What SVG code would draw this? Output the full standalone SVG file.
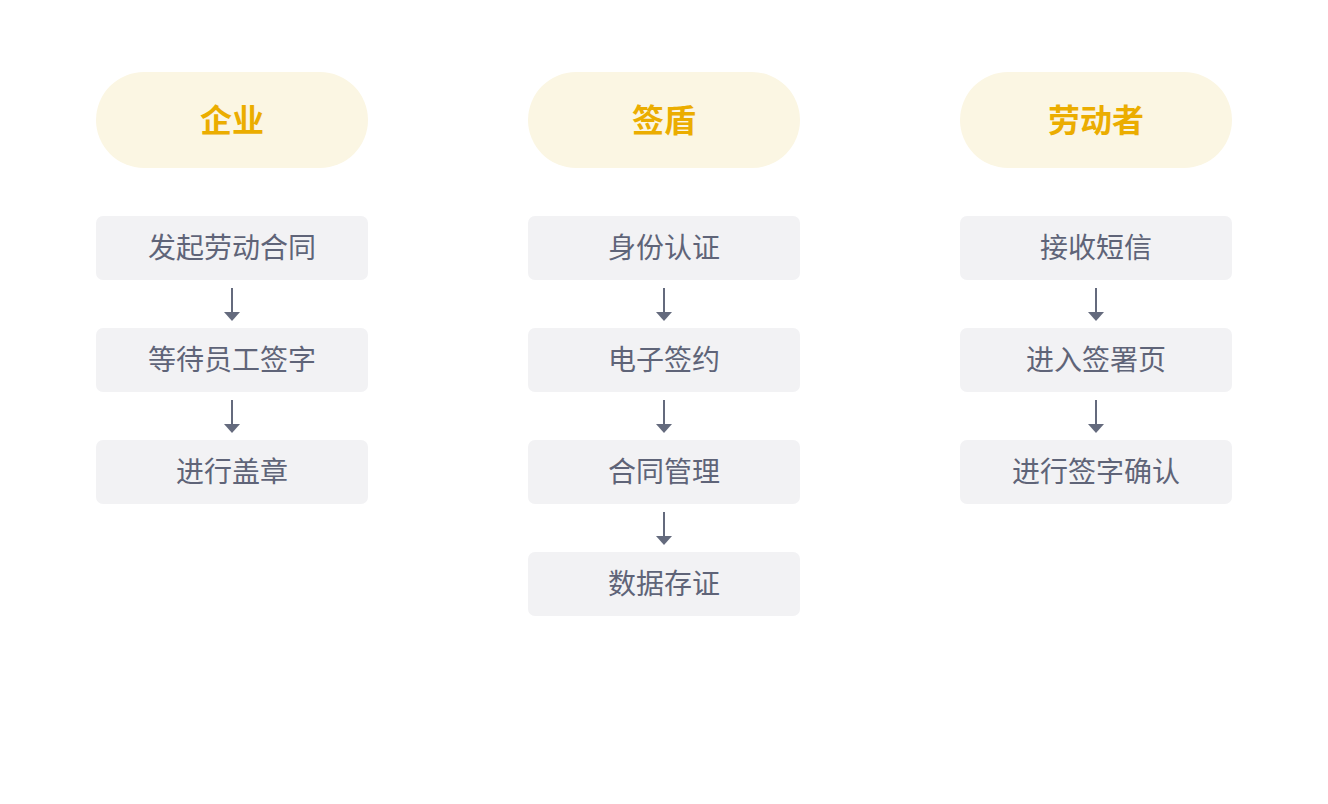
<svg xmlns="http://www.w3.org/2000/svg" width="1328" height="804" viewBox="0 0 1328 804">
<defs>
<style>
.pill{fill:#fbf6e3}
.ptxt{font-family:"Noto Sans CJK SC","Noto Sans",sans-serif;font-size:32px;font-weight:bold;fill:#ebad00;text-anchor:middle;dominant-baseline:central}
.box{fill:#f2f2f4}
.btxt{font-family:"Noto Sans CJK SC","Noto Sans",sans-serif;font-size:28px;fill:#5f6478;text-anchor:middle;dominant-baseline:central}
.conn{stroke:#646a7d;stroke-width:2;fill:none}
.head{fill:#646a7d}
</style>
</defs>
<rect width="1328" height="804" fill="#ffffff"/>
<g id="h1"><rect class="pill" x="96" y="72" width="272" height="96" rx="48"/><text class="ptxt" x="232" y="118">企业</text></g>
<g id="h2"><rect class="pill" x="528" y="72" width="272" height="96" rx="48"/><text class="ptxt" x="664" y="118">签盾</text></g>
<g id="h3"><rect class="pill" x="960" y="72" width="272" height="96" rx="48"/><text class="ptxt" x="1096" y="118">劳动者</text></g>

<g id="a1"><rect class="box" x="96" y="216" width="272" height="64" rx="7"/><text class="btxt" x="232" y="246">发起劳动合同</text></g>
<g id="a2"><rect class="box" x="96" y="328" width="272" height="64" rx="7"/><text class="btxt" x="232" y="358">等待员工签字</text></g>
<g id="a3"><rect class="box" x="96" y="440" width="272" height="64" rx="7"/><text class="btxt" x="232" y="470">进行盖章</text></g>

<g id="b1"><rect class="box" x="528" y="216" width="272" height="64" rx="7"/><text class="btxt" x="664" y="246">身份认证</text></g>
<g id="b2"><rect class="box" x="528" y="328" width="272" height="64" rx="7"/><text class="btxt" x="664" y="358">电子签约</text></g>
<g id="b3"><rect class="box" x="528" y="440" width="272" height="64" rx="7"/><text class="btxt" x="664" y="470">合同管理</text></g>
<g id="b4"><rect class="box" x="528" y="552" width="272" height="64" rx="7"/><text class="btxt" x="664" y="582">数据存证</text></g>

<g id="c1"><rect class="box" x="960" y="216" width="272" height="64" rx="7"/><text class="btxt" x="1096" y="246">接收短信</text></g>
<g id="c2"><rect class="box" x="960" y="328" width="272" height="64" rx="7"/><text class="btxt" x="1096" y="358">进入签署页</text></g>
<g id="c3"><rect class="box" x="960" y="440" width="272" height="64" rx="7"/><text class="btxt" x="1096" y="470">进行签字确认</text></g>

<g id="connectors">
<path class="conn" d="M232,288 V313"/><path class="head" d="M224,312 H240 L232,321 Z"/>
<path class="conn" d="M232,400 V425"/><path class="head" d="M224,424 H240 L232,433 Z"/>
<path class="conn" d="M664,288 V313"/><path class="head" d="M656,312 H672 L664,321 Z"/>
<path class="conn" d="M664,400 V425"/><path class="head" d="M656,424 H672 L664,433 Z"/>
<path class="conn" d="M664,512 V537"/><path class="head" d="M656,536 H672 L664,545 Z"/>
<path class="conn" d="M1096,288 V313"/><path class="head" d="M1088,312 H1104 L1096,321 Z"/>
<path class="conn" d="M1096,400 V425"/><path class="head" d="M1088,424 H1104 L1096,433 Z"/>
</g>
</svg>
